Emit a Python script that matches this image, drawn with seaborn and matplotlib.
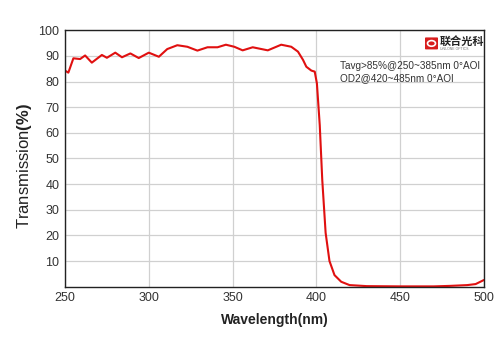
import matplotlib
matplotlib.use("Agg")
import matplotlib.pyplot as plt
from matplotlib.patches import FancyBboxPatch, Circle
import numpy as np
import pandas as pd
import seaborn as sns

# transmission curve
wavelength = [250, 252, 255, 259, 262, 266, 272, 275, 280, 284, 289, 294, 300, 306,
              311, 317, 323, 329, 335, 341, 346, 351, 356, 362, 371, 379, 385, 389,
              392, 394, 397, 399, 400.3, 402, 403.5, 405.5, 407.8, 410.8, 414.8,
              419.8, 430, 450, 470, 480, 490, 495, 500]
transmission = [84.3, 83.5, 89.1, 88.8, 90.2, 87.4, 90.4, 89.3, 91.3, 89.5, 91.0, 89.2,
                91.3, 89.7, 92.7, 94.2, 93.6, 92.1, 93.4, 93.4, 94.4, 93.6, 92.2, 93.4,
                92.2, 94.4, 93.6, 91.7, 88.5, 85.8, 84.3, 83.9, 79.3, 63.0, 41.6, 21.0,
                10.0, 4.5, 1.9, 0.6, 0.2, 0.1, 0.1, 0.3, 0.6, 1.0, 2.6]

x_ticks = [250, 300, 350, 400, 450, 500]
y_ticks = [10, 20, 30, 40, 50, 60, 70, 80, 90, 100]
notes = ["Tavg>85%@250~385nm 0°AOI", "OD2@420~485nm 0°AOI"]

df = pd.DataFrame({"wl": wavelength, "T": transmission})

sns.set_style("white")
plt.rcParams["font.family"] = ["Liberation Sans", "Noto Sans CJK SC", "DejaVu Sans"]
plt.rcParams["mathtext.fontset"] = "custom"
plt.rcParams["mathtext.rm"] = "Liberation Sans"
plt.rcParams["mathtext.bf"] = "Liberation Sans:bold"

fig = plt.figure(figsize=(5, 3.53), dpi=100)
ax = fig.add_axes([0.13, 0.188, 0.838, 0.726])

sns.lineplot(data=df, x="wl", y="T", ax=ax, color="#e01010", linewidth=1.5)

ax.set_xlim(250, 500)
ax.set_ylim(0, 100)
ax.set_xticks(x_ticks)
ax.set_yticks(y_ticks)
ax.grid(True, color="#d0d0d0", linewidth=0.9)
ax.tick_params(axis="both", labelsize=9, colors="#333333", length=0, pad=4)
for s in ax.spines.values():
    s.set_color("#222222")
    s.set_linewidth(1.0)

ax.set_xlabel("Wavelength(nm)", fontsize=10, fontweight="bold", color="#222222", labelpad=6)
ax.set_ylabel(r"Transmission$\mathbf{(\%)}$", fontsize=12, color="#222222")
ax.yaxis.set_label_coords(-0.073, 0.47)

ax.text(0.656, 0.862, notes[0], transform=ax.transAxes, fontsize=7.2, color="#333333",
        va="center")
ax.text(0.656, 0.815, notes[1], transform=ax.transAxes, fontsize=7.2, color="#333333",
        va="center")

# logo
logo = FancyBboxPatch((0.852, 0.862), 0.022, 0.03, boxstyle="round,pad=0.002",
                      transform=fig.transFigure, facecolor="#d81e1e", edgecolor="none")
fig.patches.append(logo)
fig.patches.append(Circle((0.863, 0.877), 0.008, transform=fig.transFigure,
                          facecolor="none", edgecolor="white", linewidth=1.2))
fig.text(0.88, 0.883, "联合光科", fontsize=8, fontweight="bold", color="#222222",
         ha="left", va="center")
fig.text(0.88, 0.86, "UNI-ONE OPTICS", fontsize=2.5, color="#777777", ha="left", va="center")

fig.savefig("out.png", dpi=100, facecolor="white")
